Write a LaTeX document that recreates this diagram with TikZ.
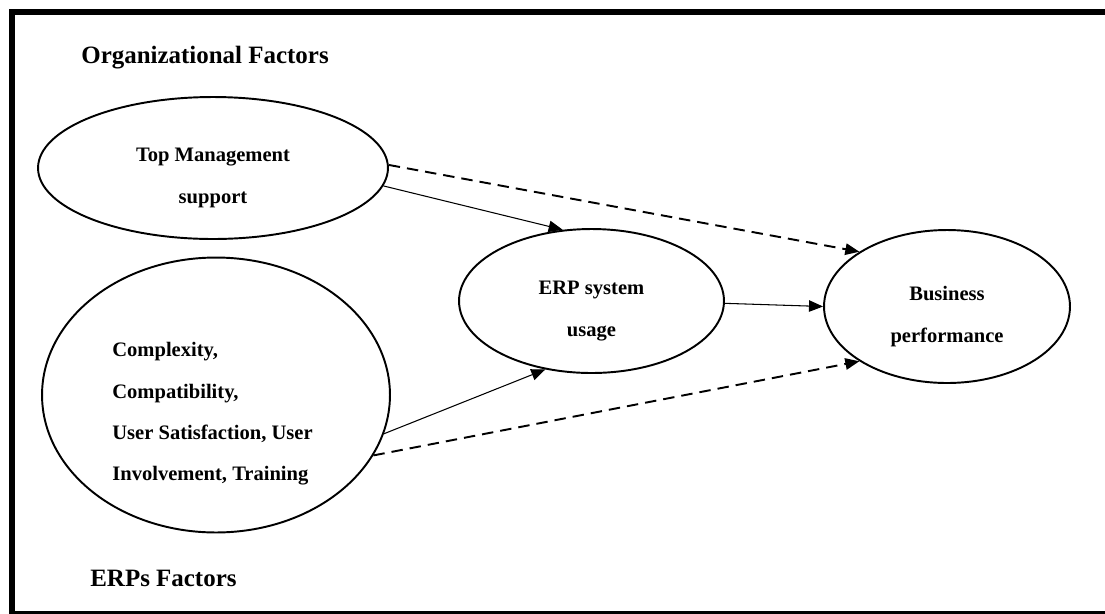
\documentclass[tikz,border=0pt]{standalone}
\usepackage{fontspec}
\setmainfont{Liberation Serif}
\usetikzlibrary{shapes.geometric,arrows.meta}
\begin{document}
\begin{tikzpicture}[x=0.02cm,y=-0.02cm,
    factor/.style={draw,ellipse,line width=1.1pt,inner sep=0pt},
    body/.style={font=\fontsize{11.7pt}{23.5pt}\selectfont\bfseries,align=center,inner sep=0pt},
    head/.style={font=\fontsize{14.2pt}{17pt}\selectfont\bfseries,anchor=west,inner sep=0pt},
    link/.style={-{Triangle[length=8pt,width=6.5pt]},line width=0.6pt},
    dashlink/.style={link,line width=1.1pt,dash pattern=on 6.5pt off 4pt}]
    \useasboundingbox (0,0) rectangle (1105,613);
    \clip (0,0) rectangle (1105,613);
    \draw[line width=3.4pt] (12,12) rectangle (1140,614);
    \node[head] (orgtitle) at (81,58) {Organizational Factors};
    \node[head] (erptitle) at (90,578) {ERPs Factors};
    \node[factor,minimum width=7cm,minimum height=2.84cm] (topmgmt) at (213,168) {};
    \node[factor,minimum width=6.96cm,minimum height=5.5cm] (erpfac) at (216,395) {};
    \node[factor,minimum width=5.3cm,minimum height=2.88cm] (usage) at (591.5,301) {};
    \node[factor,minimum width=4.92cm,minimum height=3.06cm] (business) at (947,306.5) {};
    \node[body] (topmgmt-txt) at ([yshift=-2mm]topmgmt) {Top Management\\support};
    \node[body] (usage-txt) at ([yshift=-2mm]usage) {ERP system\\usage};
    \node[body] (business-txt) at ([yshift=-2mm]business) {Business\\performance};
    \node[body,align=left,anchor=west] (erpfac-txt) at (112,414) {Complexity,\\Compatibility,\\User Satisfaction, User\\Involvement, Training};
    \draw[link] (topmgmt.-6) -- (usage.112);
    \draw[dashlink] (topmgmt.1) -- (business.148);
    \draw[link] (erpfac.-13) -- (usage.-124);
    \draw[dashlink] (erpfac.-21) -- (business.212);
    \draw[link] (usage.-1) -- (business.180);
\end{tikzpicture}
\end{document}
